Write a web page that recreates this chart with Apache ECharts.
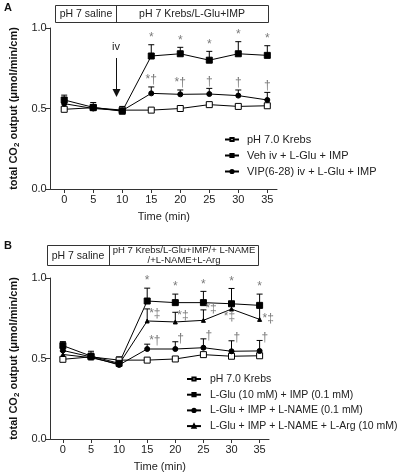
<!DOCTYPE html>
<html>
<head>
<meta charset="utf-8">
<script src="https://cdn.jsdelivr.net/npm/echarts@6/dist/echarts.min.js"></script>
<style>
html,body{margin:0;padding:0;background:#fff;}
#c{width:400px;height:473px;}
</style>
</head>
<body>
<div id="c"></div>
<script>
// ---------- DATA ----------
var times = [0, 5, 10, 15, 20, 25, 30, 35];
var xTickLabels = [0, 5, 10, 15, 20, 25, 30, 35];
var yTickLabels = [0, 0.5, 1.0];

// Panel A
var namesA = ['pH 7.0 Krebs', 'Veh iv + L-Glu + IMP', 'VIP(6-28) iv + L-Glu + IMP'];
var krebsA = [0.495, 0.505, 0.49, 0.49, 0.50, 0.524, 0.513, 0.517];
var krebsAErr = [0.01, 0.01, 0.01, 0.01, 0.01, 0.01, 0.01, 0.01];
var vehA = [0.553, 0.507, 0.483, 0.826, 0.84, 0.80, 0.84, 0.83];
var vehAErr = [0.03, 0.03, 0.03, 0.07, 0.04, 0.055, 0.075, 0.06];
var vipA = [0.53, 0.50, 0.487, 0.594, 0.588, 0.59, 0.58, 0.553];
var vipAErr = [0.025, 0.02, 0.02, 0.04, 0.027, 0.035, 0.035, 0.047];
var vehAMarks = ['', '', '', '*', '*', '*', '*', '*'];
var vipAMarks = ['', '', '', '*\u2020', '*\u2020', '\u2020', '\u2020', '\u2020'];

// Panel B
var namesB = ['pH 7.0 Krebs', 'L-Glu (10 mM) + IMP (0.1 mM)', 'L-Glu + IMP + L-NAME (0.1 mM)', 'L-Glu + IMP + L-NAME + L-Arg (10 mM)'];
var krebsB = [0.495, 0.51, 0.49, 0.49, 0.497, 0.524, 0.514, 0.517];
var krebsBErr = [0.01, 0.01, 0.01, 0.01, 0.01, 0.01, 0.01, 0.01];
var gluB = [0.58, 0.515, 0.47, 0.857, 0.847, 0.847, 0.84, 0.83];
var gluBErr = [0.025, 0.03, 0.04, 0.08, 0.053, 0.07, 0.095, 0.07];
var nameB = [0.55, 0.51, 0.46, 0.559, 0.559, 0.567, 0.545, 0.547];
var nameBErr = [0.02, 0.02, 0.03, 0.03, 0.045, 0.055, 0.065, 0.065];
var argB = [0.525, 0.505, 0.465, 0.733, 0.727, 0.737, 0.807, 0.743];
var argBErr = [0.02, 0.02, 0.03, 0.075, 0.06, 0.065, 0.04, 0.09];
var gluBMarks = ['', '', '', '*', '*', '*', '*', '*'];
var nameBMarks = ['', '', '', '*\u2020', '\u2020', '\u2020', '\u2020', '\u2020'];
var argBMarks = ['', '', '', '*\u2021', '*\u2021', '*\u2021', '*\u2021', '*\u2021'];

// ---------- CHART ----------
var FONT = '"Liberation Sans", Arial, sans-serif';
var AX = '#333';
var chart = echarts.init(document.getElementById('c'), null, {renderer: 'canvas'});

function pairs(v) { return times.map(function (t, i) { return [t, v[i]]; }); }

function lineSeries(name, vals, gi, symbol, size, fill) {
  return {
    type: 'line', name: name, xAxisIndex: gi, yAxisIndex: gi,
    data: pairs(vals), symbol: symbol, symbolSize: size, showSymbol: true,
    lineStyle: {color: '#000', width: 1},
    itemStyle: {color: fill, borderColor: '#000', borderWidth: 1},
    z: 5, animation: false
  };
}

function errSeries(vals, errs, gi) {
  return {
    type: 'custom', xAxisIndex: gi, yAxisIndex: gi, z: 3, silent: true, animation: false,
    data: times.map(function (t, i) { return [t, vals[i], errs[i]]; }),
    renderItem: function (params, api) {
      var p0 = api.coord([api.value(0), api.value(1)]);
      var p1 = api.coord([api.value(0), api.value(1) + api.value(2)]);
      return {type: 'group', children: [
        {type: 'line', shape: {x1: p0[0], y1: p0[1], x2: p1[0], y2: p1[1]}, style: {stroke: '#000', lineWidth: 1}},
        {type: 'line', shape: {x1: p1[0] - 3, y1: p1[1], x2: p1[0] + 3, y2: p1[1]}, style: {stroke: '#000', lineWidth: 1}}
      ]};
    }
  };
}

// placement of significance marks (layout only)
function markSeries(vals, errs, marks, gi, placeFn) {
  return {
    type: 'custom', xAxisIndex: gi, yAxisIndex: gi, z: 6, silent: true, animation: false,
    data: times.map(function (t, i) { return [t, vals[i], errs[i], i]; }),
    renderItem: function (params, api) {
      var i = api.value(3);
      var txt = marks[i];
      if (!txt) return null;
      var p0 = api.coord([api.value(0), api.value(1)]);
      var p1 = api.coord([api.value(0), api.value(1) + api.value(2)]);
      var pl = placeFn(i, p0, p1);
      return {type: 'text', x: pl.x, y: pl.y, style: {
        text: txt, fill: '#7a7a7a', font: '12px ' + FONT, align: pl.align, verticalAlign: pl.va
      }};
    }
  };
}
function placeTop(i, p0, p1) { return {x: p1[0], y: p1[1] - 1, align: 'center', va: 'bottom'}; }
function placeNameB(i, p0, p1) { return {x: p1[0] + 2, y: p1[1] - 3, align: 'left', va: 'middle'}; }
function placeArgB(i, p0, p1) {
  if (i === 6) return {x: p0[0] - 2, y: p0[1] + 2, align: 'center', va: 'top'};
  if (i === 7) return {x: p0[0] + 3, y: p0[1] - 1, align: 'left', va: 'middle'};
  if (i === 5) return {x: p1[0] + 2, y: p1[1] - 1, align: 'left', va: 'middle'};
  return {x: p1[0] + 2, y: (p0[1] + p1[1]) / 2 - 1, align: 'left', va: 'middle'};
}

function xAxis(gi, min, max) {
  return {
    type: 'value', gridIndex: gi, min: min, max: max,
    name: 'Time (min)', nameLocation: 'middle', nameGap: 22,
    nameTextStyle: {fontFamily: FONT, fontSize: 11, color: '#222'},
    axisLine: {show: true, onZero: false, lineStyle: {color: AX, width: 1}},
    axisTick: {show: true, length: 4, customValues: xTickLabels, lineStyle: {color: AX}},
    axisLabel: {customValues: xTickLabels, margin: 5, fontFamily: FONT, fontSize: 11, color: '#222'},
    splitLine: {show: false}
  };
}
function yAxis(gi) {
  return {
    type: 'value', gridIndex: gi, min: 0, max: 1, interval: 0.5,
    name: 'total CO{s|2} output (\u03bcmol/min/cm)', nameLocation: 'middle', nameGap: 26, nameRotate: 90,
    nameTextStyle: {fontFamily: FONT, fontSize: 11, fontWeight: 'bold', color: '#111',
      rich: {s: {fontFamily: FONT, fontSize: 8, fontWeight: 'bold', color: '#111', padding: [6, 0, 0, 0]}}},
    axisLine: {show: true, onZero: false, lineStyle: {color: AX, width: 1}},
    axisTick: {show: true, length: 5, lineStyle: {color: AX}},
    axisLabel: {margin: 4, fontFamily: FONT, fontSize: 11, color: '#222',
      formatter: function (v) { return yTickLabels.indexOf(v) >= 0 ? v.toFixed(1) : ''; }},
    splitLine: {show: false}
  };
}

var legendIcons = {
  open: 'path://M1,1 L9,1 L9,9 L1,9 Z',
};

var option = {
  animation: false,
  backgroundColor: '#fff',
  grid: [
    {left: 43, top: 28, width: 234, height: 161},
    {left: 36, top: 278, width: 233, height: 161}
  ],
  xAxis: [xAxis(0, -2.33, 36.67), xAxis(1, -2.17, 36.67)],
  yAxis: [yAxis(0), yAxis(1)],
  legend: [
    {data: namesA.slice(), left: 224, top: 134, padding: 0, orient: 'vertical', itemWidth: 14, itemHeight: 4, itemGap: 5,
     selectedMode: false, textStyle: {fontFamily: FONT, fontSize: 11, color: '#222', padding: [0, 0, 0, 3]}},
    {data: namesB.slice(), left: 186, top: 373.5, padding: 0, orient: 'vertical', itemWidth: 14, itemHeight: 4, itemGap: 4.7,
     selectedMode: false, textStyle: {fontFamily: FONT, fontSize: 10.5, color: '#222', padding: [0, 0, 0, 4]}}
  ],
  series: [
    errSeries(krebsA, krebsAErr, 0),
    errSeries(vehA, vehAErr, 0),
    errSeries(vipA, vipAErr, 0),
    lineSeries(namesA[0], krebsA, 0, 'rect', 6, '#fff'),
    lineSeries(namesA[1], vehA, 0, 'rect', 6, '#000'),
    lineSeries(namesA[2], vipA, 0, 'circle', 5, '#000'),
    markSeries(vehA, vehAErr, vehAMarks, 0, placeTop),
    markSeries(vipA, vipAErr, vipAMarks, 0, placeTop),

    errSeries(krebsB, krebsBErr, 1),
    errSeries(gluB, gluBErr, 1),
    errSeries(nameB, nameBErr, 1),
    errSeries(argB, argBErr, 1),
    lineSeries(namesB[0], krebsB, 1, 'rect', 6, '#fff'),
    lineSeries(namesB[1], gluB, 1, 'rect', 6, '#000'),
    lineSeries(namesB[2], nameB, 1, 'circle', 5, '#000'),
    lineSeries(namesB[3], argB, 1, 'triangle', 4, '#000'),
    markSeries(gluB, gluBErr, gluBMarks, 1, placeTop),
    markSeries(nameB, nameBErr, nameBMarks, 1, placeNameB),
    markSeries(argB, argBErr, argBMarks, 1, placeArgB)
  ],
  graphic: [
    {type: 'text', left: 4, top: 2, style: {text: 'A', font: 'bold 11px ' + FONT, fill: '#111'}},
    {type: 'text', left: 4, top: 240, style: {text: 'B', font: 'bold 11px ' + FONT, fill: '#111'}},
    // header A
    {type: 'rect', shape: {x: 55.5, y: 5.5, width: 213, height: 17}, style: {fill: '#fff', stroke: '#333', lineWidth: 1}},
    {type: 'line', shape: {x1: 116.5, y1: 5.5, x2: 116.5, y2: 22.5}, style: {stroke: '#333', lineWidth: 1}},
    {type: 'text', x: 86, y: 14, style: {text: 'pH 7 saline', font: '10.5px ' + FONT, fill: '#222', align: 'center', verticalAlign: 'middle'}},
    {type: 'text', x: 192, y: 14, style: {text: 'pH 7 Krebs/L-Glu+IMP', font: '10.5px ' + FONT, fill: '#222', align: 'center', verticalAlign: 'middle'}},
    // header B
    {type: 'rect', shape: {x: 47.5, y: 245.5, width: 211, height: 20}, style: {fill: '#fff', stroke: '#333', lineWidth: 1}},
    {type: 'line', shape: {x1: 109.5, y1: 245.5, x2: 109.5, y2: 265.5}, style: {stroke: '#333', lineWidth: 1}},
    {type: 'text', x: 78, y: 256, style: {text: 'pH 7 saline', font: '10.5px ' + FONT, fill: '#222', align: 'center', verticalAlign: 'middle'}},
    {type: 'text', x: 184, y: 250.5, style: {text: 'pH 7 Krebs/L-Glu+IMP/+ L-NAME', font: '9.5px ' + FONT, fill: '#222', align: 'center', verticalAlign: 'middle'}},
    {type: 'text', x: 184, y: 260, style: {text: '/+L-NAME+L-Arg', font: '9.5px ' + FONT, fill: '#222', align: 'center', verticalAlign: 'middle'}},
    // iv arrow
    {type: 'text', x: 116, y: 47, style: {text: 'iv', font: '11px ' + FONT, fill: '#222', align: 'center', verticalAlign: 'middle'}},
    {type: 'line', shape: {x1: 116.5, y1: 58, x2: 116.5, y2: 91}, style: {stroke: '#111', lineWidth: 1}},
    {type: 'polygon', shape: {points: [[112.5, 89], [120.5, 89], [116.5, 97]]}, style: {fill: '#111'}}
  ]
};
chart.setOption(option);
</script>
</body>
</html>
